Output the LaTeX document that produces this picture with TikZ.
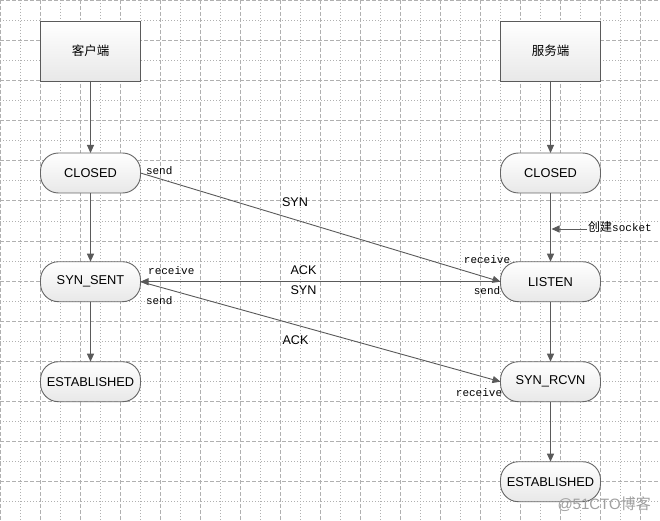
\documentclass[tikz,border=0pt]{standalone}
\usepackage{fontspec}
\setmainfont{Liberation Sans}
\newfontfamily\cjk{Noto Sans CJK SC}
\newfontfamily\mono{Liberation Mono}
\usetikzlibrary{arrows.meta}
\definecolor{gridc}{HTML}{B0B0B0}
\definecolor{linec}{HTML}{5A5A5A}
\definecolor{borderc}{HTML}{666666}
\definecolor{shadec}{HTML}{E8E8E8}
\definecolor{wmc}{HTML}{A0A0A0}
\tikzset{
  statebox/.style={draw=borderc, line width=0.9pt, rounded corners=18pt, minimum width=100pt, minimum height=40pt, inner sep=0pt, outer sep=0pt, top color=white, bottom color=shadec, font=\fontsize{12.8}{14}\selectfont},
  endbox/.style={draw=linec, line width=0.9pt, minimum width=100pt, minimum height=60pt, inner sep=0pt, outer sep=0pt, top color=white, bottom color=shadec, font=\cjk\fontsize{12.5}{14}\selectfont},
  arr/.style={draw=linec, line width=0.9pt, -{Triangle[length=8pt,width=7pt]}},
  msg/.style={font=\fontsize{12.6}{14}\selectfont, inner sep=0pt},
  io/.style={font=\mono\fontsize{11}{12}\selectfont, inner sep=0pt},
  gridmajor/.style={draw=gridc, line width=1pt, dash pattern=on 4pt off 2pt},
  gridminor/.style={draw=gridc, line width=1pt, dash pattern=on 1pt off 2pt},
}
\begin{document}
\begin{tikzpicture}[x=1pt,y=-1pt]
\useasboundingbox (0,0) rectangle (660,521);
\fill[white] (0,0) rectangle (660,521);
% grid
\foreach \g in {0,40,...,640} {\draw[gridmajor] (\g+0.5,0) -- (\g+0.5,521);}
\foreach \g in {20,60,...,660} {\draw[gridminor] (\g+0.5,0) -- (\g+0.5,521);}
\foreach \g in {1,41,...,521} {\draw[gridmajor] (0,\g) -- (660,\g);}
\foreach \g in {21,61,...,521} {\draw[gridminor] (0,\g) -- (660,\g);}
% nodes
\node[endbox] (kh) at (90.5,51) {客户端};
\node[endbox] (fw) at (550.5,51) {服务端};
\node[statebox] (c1) at (90.5,173) {CLOSED};
\node[statebox] (c2) at (550.5,173) {CLOSED};
\node[statebox] (ss) at (90.5,281.7) {SYN\_SENT};
\node[statebox] (ls) at (550.5,281.7) {LISTEN};
\node[statebox] (e1) at (90.5,381.7) {ESTABLISHED};
\node[statebox] (sr) at (550.5,381.7) {SYN\_RCVN};
\node[statebox] (e2) at (550.5,481.7) {ESTABLISHED};
\coordinate (skA) at (587,229);
\coordinate (skB) at (551.5,229);
% connectors
\draw[arr] (kh) -- (c1);
\draw[arr] (c1) -- (ss);
\draw[arr] (ss) -- (e1);
\draw[arr] (fw) -- (c2);
\draw[arr] (c2) -- (ls);
\draw[arr] (ls) -- (sr);
\draw[arr] (sr) -- (e2);
\draw[arr] (c1.east) -- (ls.west);
\draw[arr] (ls.west) -- (ss.east);
\draw[arr] (ss.east) -- (sr.west);
\draw[arr] (skA) -- (skB);
% labels
\node[anchor=west, inner sep=0pt] (sk) at (588,227) {\cjk\fontsize{12}{14}\selectfont 创建\mono\fontsize{11}{12}\selectfont socket};
\node[msg] (l1) at (295,202) {SYN};
\node[msg] (l2) at (303.5,270) {ACK};
\node[msg] (l3) at (303.5,290) {SYN};
\node[msg] (l4) at (295.5,340) {ACK};
\node[io] (s1) at (159.2,170.5) {send};
\node[io] (r1) at (171.3,270.5) {receive};
\node[io] (s2) at (159.2,300.5) {send};
\node[io] (r2) at (487,260) {receive};
\node[io] (s3) at (487,290.5) {send};
\node[io] (r3) at (479,392.5) {receive};
\node[anchor=east, inner sep=0pt, text=wmc] (wm) at (651,504) {\fontsize{15}{16}\selectfont @51CTO\cjk 博客};
\end{tikzpicture}
\end{document}
